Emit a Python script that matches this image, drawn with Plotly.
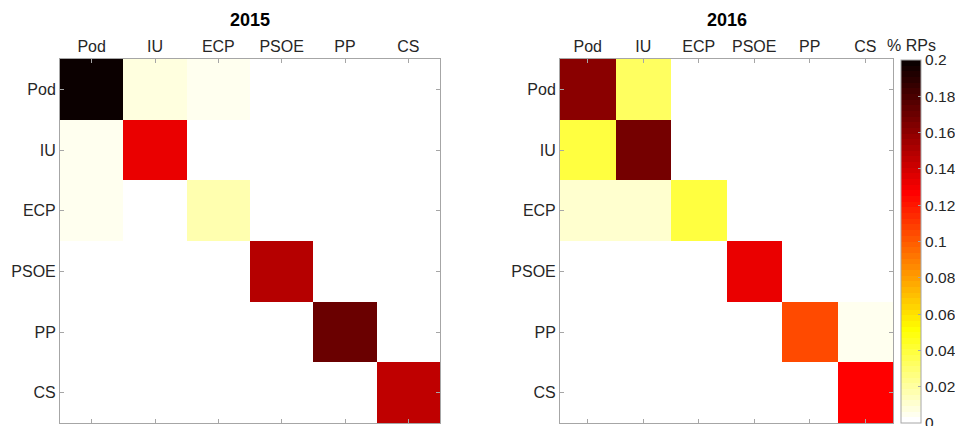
import plotly.graph_objects as go

parties = ["Pod", "IU", "ECP", "PSOE", "PP", "CS"]

# rows = y (top to bottom), columns = x
z_2015 = [
    [0.200, 0.008, 0.005, 0.0, 0.0, 0.0],
    [0.005, 0.132, 0.0, 0.0, 0.0, 0.0],
    [0.005, 0.0, 0.017, 0.0, 0.0, 0.0],
    [0.0, 0.0, 0.0, 0.148, 0.0, 0.0],
    [0.0, 0.0, 0.0, 0.0, 0.170, 0.0],
    [0.0, 0.0, 0.0, 0.0, 0.0, 0.145],
]
z_2016 = [
    [0.161, 0.033, 0.0, 0.0, 0.0, 0.0],
    [0.039, 0.167, 0.0, 0.0, 0.0, 0.0],
    [0.011, 0.011, 0.039, 0.0, 0.0, 0.0],
    [0.0, 0.0, 0.0, 0.133, 0.0, 0.0],
    [0.0, 0.0, 0.0, 0.0, 0.105, 0.005],
    [0.0, 0.0, 0.0, 0.0, 0.0, 0.127],
]
titles = ["2015", "2016"]
cbar_ticks = [0, 0.02, 0.04, 0.06, 0.08, 0.1, 0.12, 0.14, 0.16, 0.18, 0.2]
cbar_title = "% RPs"

# flipped MATLAB hot(64), stepped
M = 64
def hot_row(k):
    r = min(1.0, k / 24)
    g = min(1.0, max(0.0, (k - 24) / 24))
    b = min(1.0, max(0.0, (k - 48) / 16))
    return "rgb(%d,%d,%d)" % (round(r * 255), round(g * 255), round(b * 255))

colorscale = []
for i in range(M):
    c = hot_row(M - i)
    colorscale.append([i / M, c])
    colorscale.append([(i + 1) / M, c])

W, H = 955, 426
ML, MR, MT, MB = 60, 62, 59, 3
PW, PH = W - ML - MR, H - MT - MB

def px_x(x):
    return (x - ML) / PW

def px_y(y):
    return (H - MB - y) / PH

idx = list(range(len(parties)))
font_family = "Liberation Sans, Arial, sans-serif"
txt_col = "#262626"
line_col = "#a6a6a6"

fig = go.Figure()
fig.add_trace(go.Heatmap(z=z_2015, x=idx, y=idx, zmin=0, zmax=0.2,
                         colorscale=colorscale, showscale=False,
                         xaxis="x", yaxis="y", hoverinfo="skip"))
fig.add_trace(go.Heatmap(z=z_2016, x=idx, y=idx, zmin=0, zmax=0.2,
                         colorscale=colorscale, showscale=True,
                         xaxis="x2", yaxis="y2", hoverinfo="skip",
                         colorbar=dict(
                             x=px_x(901), xanchor="left", xref="paper",
                             y=px_y(241.5), yanchor="middle", yref="paper",
                             len=363, lenmode="pixels",
                             thickness=20, thicknessmode="pixels",
                             outlinewidth=1, outlinecolor=line_col,
                             tickvals=cbar_ticks,
                             ticktext=[("%g" % t) for t in cbar_ticks],
                             ticks="inside", ticklen=3, tickcolor=line_col,
                             ticklabeloverflow="allow",
                             tickfont=dict(size=15.5, color=txt_col, family=font_family),
                             xpad=0, ypad=0,
                         )))

def xax(domain, anchor):
    return dict(domain=domain, anchor=anchor, side="top", tickmode="array", tickvals=idx,
                ticktext=parties, range=[-0.5, 5.5], showgrid=False, zeroline=False,
                showline=True, linecolor=line_col, linewidth=1, mirror="ticks",
                ticks="inside", ticklen=4, tickcolor=line_col, automargin=False,
                tickfont=dict(size=16, color=txt_col, family=font_family))

def yax(anchor):
    return dict(domain=[0, 1], anchor=anchor, tickmode="array", tickvals=idx,
                ticktext=parties, range=[5.5, -0.5], showgrid=False, zeroline=False,
                showline=True, linecolor=line_col, linewidth=1, mirror="ticks",
                ticks="inside", ticklen=4, tickcolor=line_col, automargin=False,
                tickfont=dict(size=16, color=txt_col, family=font_family))

fig.update_layout(
    width=W, height=H,
    margin=dict(l=ML, r=MR, t=MT, b=MB, autoexpand=False),
    paper_bgcolor="white", plot_bgcolor="white",
    font=dict(family=font_family, color=txt_col),
    xaxis=xax([0, px_x(440)], "y"),
    yaxis=yax("x"),
    xaxis2=xax([px_x(560), 1], "y2"),
    yaxis2=yax("x2"),
    annotations=[
        dict(text="<b>%s</b>" % titles[0], x=px_x(250), y=px_y(20),
             xref="paper", yref="paper", showarrow=False,
             xanchor="center", yanchor="middle",
             font=dict(size=18, color="black", family=font_family)),
        dict(text="<b>%s</b>" % titles[1], x=px_x(727), y=px_y(20),
             xref="paper", yref="paper", showarrow=False,
             xanchor="center", yanchor="middle",
             font=dict(size=18, color="black", family=font_family)),
        dict(text=cbar_title, x=px_x(911), y=px_y(46),
             xref="paper", yref="paper", showarrow=False,
             xanchor="center", yanchor="middle",
             font=dict(size=16, color=txt_col, family=font_family)),
    ],
)

fig.write_html("out.html", config={"displayModeBar": False},
               post_script="document.body.style.margin='0';document.body.style.overflow='hidden';")
